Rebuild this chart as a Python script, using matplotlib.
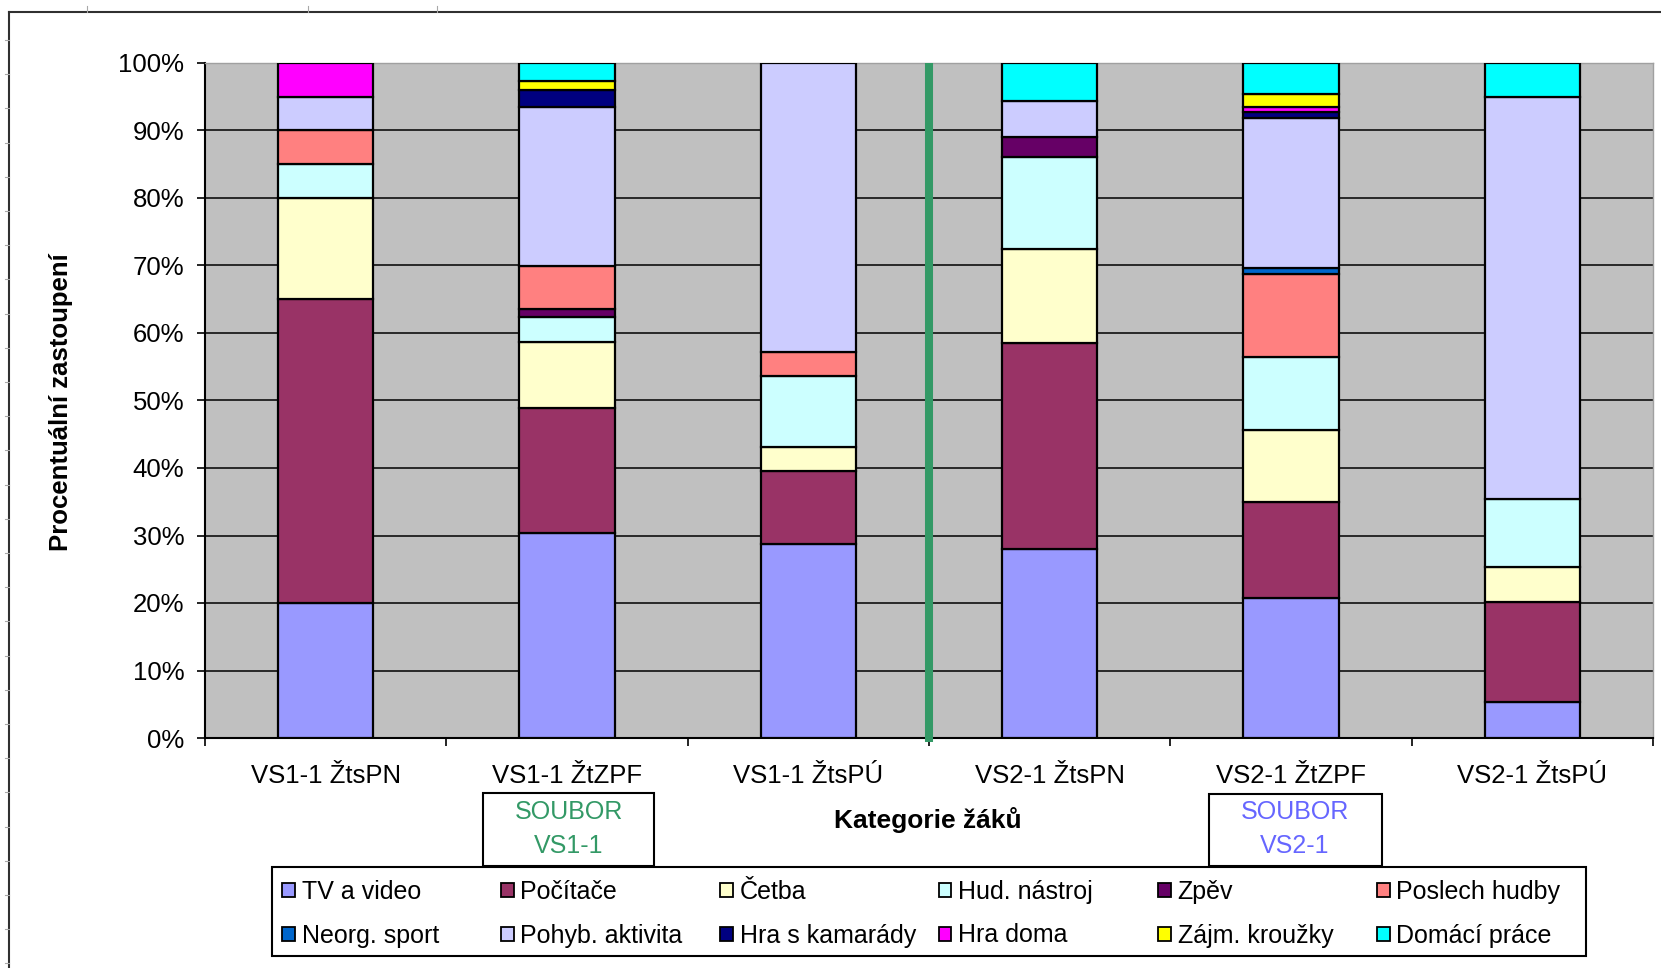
import matplotlib
matplotlib.use("Agg")
import matplotlib.pyplot as plt
from matplotlib.patches import Rectangle
from matplotlib.lines import Line2D
import numpy as np

plt.rcParams['font.family'] = ['Liberation Sans', 'DejaVu Sans']

# ---- data -------------------------------------------------------------
categories = ['VS1-1 ŽtsPN', 'VS1-1 ŽtZPF', 'VS1-1 ŽtsPÚ',
              'VS2-1 ŽtsPN', 'VS2-1 ŽtZPF', 'VS2-1 ŽtsPÚ']

activities = ['TV a video', 'Počítače', 'Četba', 'Hud. nástroj', 'Zpěv',
              'Poslech hudby', 'Neorg. sport', 'Pohyb. aktivita',
              'Hra s kamarády', 'Hra doma', 'Zájm. kroužky', 'Domácí práce']

# share (%) of each activity in every pupil category
tv_video       = [20.0, 30.3, 28.8, 28.0, 20.8,  5.4]
pocitace       = [45.0, 18.6, 10.8, 30.5, 14.2, 14.8]
cetba          = [15.0,  9.8,  3.5, 13.9, 10.7,  5.1]
hud_nastroj    = [ 5.0,  3.7, 10.5, 13.6, 10.8, 10.1]
zpev           = [ 0.0,  1.2,  0.0,  3.1,  0.0,  0.0]
poslech_hudby  = [ 5.0,  6.3,  3.6,  0.0, 12.3,  0.0]
neorg_sport    = [ 0.0,  0.0,  0.0,  0.0,  0.9,  0.0]
pohyb_aktivita = [ 5.0, 23.6, 42.8,  5.3, 22.1, 59.5]
hra_kamarady   = [ 0.0,  2.5,  0.0,  0.0,  1.0,  0.0]
hra_doma       = [ 5.0,  0.0,  0.0,  0.0,  0.7,  0.0]
zajm_krouzky   = [ 0.0,  1.3,  0.0,  0.0,  1.9,  0.0]
domaci_prace   = [ 0.0,  2.7,  0.0,  5.6,  4.6,  5.1]

series = [tv_video, pocitace, cetba, hud_nastroj, zpev, poslech_hudby,
          neorg_sport, pohyb_aktivita, hra_kamarady, hra_doma,
          zajm_krouzky, domaci_prace]

colors = ['#9999FF', '#993366', '#FFFFCC', '#CCFFFF', '#660066', '#FF8080',
          '#0066CC', '#CCCCFF', '#000080', '#FF00FF', '#FFFF00', '#00FFFF']

y_ticks = list(range(0, 101, 10))
y_tick_labels = [f'{v}%' for v in y_ticks]

# ---- figure -----------------------------------------------------------
W, H = 1661, 968
fig = plt.figure(figsize=(W / 100, H / 100), dpi=100)
fig.patch.set_facecolor('white')

ax = fig.add_axes([205 / W, 1 - 738 / H, (1653 - 205) / W, (738 - 63) / H])
ax.set_facecolor('#C0C0C0')
ax.set_xlim(0, 6)
ax.set_ylim(0, 100)

x = np.arange(len(categories)) + 0.5
bottom = np.zeros(len(categories))
edge_lw = 1.6
for vals, col in zip(series, colors):
    vals = np.asarray(vals, dtype=float)
    lws = [edge_lw if v > 0 else 0 for v in vals]
    ax.bar(x, vals, 0.395, bottom=bottom, color=col, edgecolor='black',
           linewidth=lws, zorder=3)
    bottom += vals

# horizontal gridlines
ax.set_yticks(y_ticks)
ax.set_yticklabels(y_tick_labels)
ax.yaxis.grid(True, color='black', linewidth=1.1, zorder=1)
ax.get_ygridlines()[-1].set_visible(False)
ax.get_ygridlines()[0].set_visible(False)

# category ticks at group boundaries, labels centred under bars
ax.set_xticks(np.arange(0, 7))
ax.set_xticklabels([''] * 7)
ax.set_xticks(x, minor=True)
ax.set_xticklabels(categories, minor=True)

ax.tick_params(axis='y', which='major', direction='out', length=6, width=1.2,
               pad=9, labelsize=18.5, color='black')
ax.tick_params(axis='x', which='major', direction='out', length=6, width=1.2,
               color='black')
ax.tick_params(axis='x', which='minor', length=0, pad=19, labelsize=18.5)

for side in ('left', 'bottom'):
    ax.spines[side].set_color('black')
    ax.spines[side].set_linewidth(1.5)
for side in ('top', 'right'):
    ax.spines[side].set_color('#A0A0A0')
    ax.spines[side].set_linewidth(1.0)

# separator between the two sets
ax.plot([3, 3], [-0.6, 100], color='#339966', linewidth=5.8,
        solid_capstyle='butt', clip_on=False, zorder=4)

# axis titles
fig.text(61 / W, 1 - 402 / H, 'Procentuální zastoupení', rotation=90,
         ha='center', va='center', fontsize=18.5, fontweight='bold')
fig.text(928 / W, 1 - 820 / H, 'Kategorie žáků', ha='center', va='center',
         fontsize=19, fontweight='bold')

# legend frame
fig.patches.append(Rectangle((272 / W, 1 - 956 / H), (1586 - 272) / W,
                             (956 - 867) / H, transform=fig.transFigure,
                             facecolor='white', edgecolor='black',
                             linewidth=1.5, zorder=1))

# set labels above the legend
for (x0, x1, y0, y1, txt_x, col, lines) in [
        (483, 654, 793, 866, 569, '#339966', ('SOUBOR', 'VS1-1')),
        (1209, 1382, 794, 866, 1295, '#6666FF', ('SOUBOR', 'VS2-1'))]:
    fig.patches.append(Rectangle((x0 / W, 1 - y1 / H), (x1 - x0) / W,
                                 (y1 - y0) / H, transform=fig.transFigure,
                                 facecolor='white', edgecolor='black',
                                 linewidth=1.5, zorder=2))
    fig.text(txt_x / W, 1 - 812 / H, lines[0], ha='center', va='center',
             fontsize=18, color=col, zorder=3)
    fig.text(txt_x / W, 1 - 846 / H, lines[1], ha='center', va='center',
             fontsize=18, color=col, zorder=3)

# legend: six columns, two rows
handles = [Rectangle((0, 0), 1, 1, facecolor=c, edgecolor='black',
                     linewidth=1.3) for c in colors]
for i in range(6):
    lx = 282 + 219 * i
    leg = fig.legend([handles[i], handles[i + 6]],
                     [activities[i], activities[i + 6]],
                     loc='upper left',
                     bbox_to_anchor=(lx / W, 1 - 880 / H),
                     bbox_transform=fig.transFigure,
                     frameon=False, fontsize=18, handlelength=0.5,
                     handleheight=0.5, handletextpad=0.28,
                     labelspacing=0.78, borderpad=0, borderaxespad=0)
    leg.set_zorder(4)

# outer chart border
fig.add_artist(Line2D([9 / W, 9 / W], [0, 1 - 12 / H],
                      transform=fig.transFigure, color='#303030', linewidth=1.5))
fig.add_artist(Line2D([9 / W, 1], [1 - 12 / H, 1 - 12 / H],
                      transform=fig.transFigure, color='#303030', linewidth=1.5))
for yy in np.arange(40, 968, 34.2):
    fig.add_artist(Line2D([5 / W, 9 / W], [1 - yy / H, 1 - yy / H],
                          transform=fig.transFigure, color='#A8A8A8',
                          linewidth=0.8))
for xx in (87, 308, 437):
    fig.add_artist(Line2D([xx / W, xx / W], [1 - 6 / H, 1 - 12 / H],
                          transform=fig.transFigure, color='#A8A8A8',
                          linewidth=0.8))

fig.savefig('out.png', dpi=100)
